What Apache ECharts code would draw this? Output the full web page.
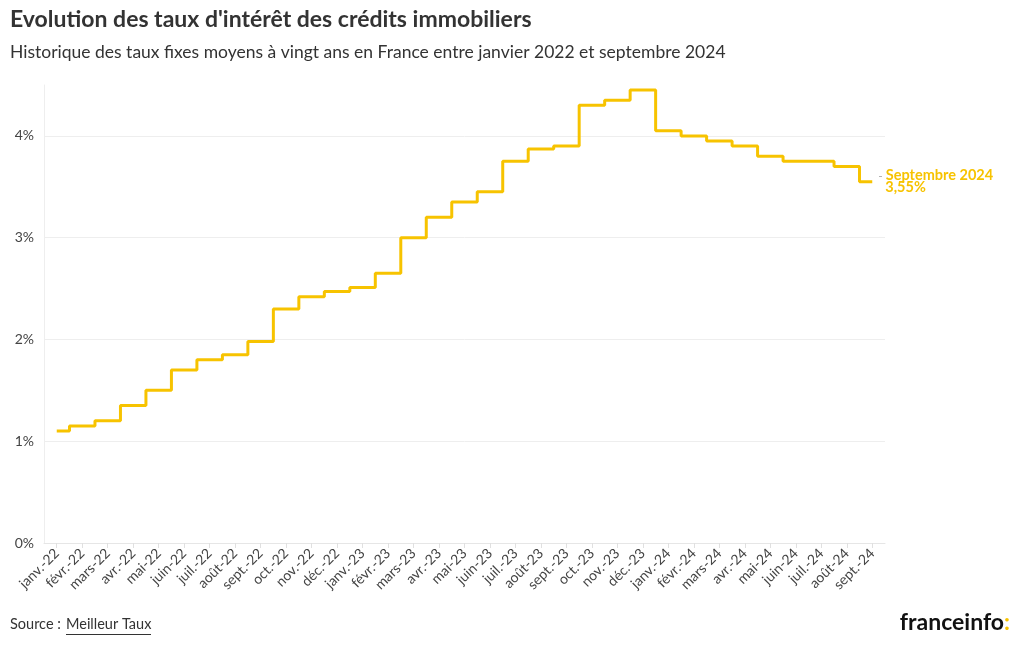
<!DOCTYPE html>
<html>
<head>
<meta charset="utf-8">
<script src="https://cdn.jsdelivr.net/npm/echarts@6/dist/echarts.min.js"></script>
<style>
html,body{margin:0;padding:0;background:#fff;}
#chart{width:1020px;height:650px;}
</style>
</head>
<body>
<div id="chart"></div>
<script>
const categories = ["janv.-22","févr.-22","mars-22","avr.-22","mai-22","juin-22","juil.-22","août-22","sept.-22","oct.-22","nov.-22","déc.-22",
  "janv.-23","févr.-23","mars-23","avr.-23","mai-23","juin-23","juil.-23","août-23","sept.-23","oct.-23","nov.-23","déc.-23",
  "janv.-24","févr.-24","mars-24","avr.-24","mai-24","juin-24","juil.-24","août-24","sept.-24"];
const rates = [1.10,1.15,1.20,1.35,1.50,1.70,1.80,1.85,1.98,2.30,2.42,2.47,
  2.51,2.65,3.00,3.20,3.35,3.45,3.75,3.87,3.90,4.30,4.35,4.45,
  4.05,4.00,3.95,3.90,3.80,3.75,3.75,3.70,3.55];
const yTicks = [0,1,2,3,4];
const title = "Evolution des taux d'intérêt des crédits immobiliers";
const subtitle = "Historique des taux fixes moyens à vingt ans en France entre janvier 2022 et septembre 2024";
const endName = "Septembre 2024";

const FONT = "Lato, 'Noto Sans', sans-serif";
const YELLOW = "#F7C300";
const chart = echarts.init(document.getElementById('chart'));
chart.setOption({
  backgroundColor: '#fff',
  animation: false,
  textStyle: {fontFamily: FONT},
  title: [
    {text: title, left: 5, top: 3, textStyle: {fontFamily: FONT, fontSize: 23, fontWeight: 'bold', color: '#333'}},
    {text: subtitle, left: 5, top: 38, textStyle: {fontFamily: FONT, fontSize: 17.5, fontWeight: 'normal', color: '#333'}}
  ],
  graphic: [
    {type: 'text', left: 10, top: 617, style: {text: 'Source :', font: '14.5px ' + FONT, fill: '#333'}},
    {type: 'text', left: 66, top: 617, style: {text: 'Meilleur Taux', font: '14.5px ' + FONT, fill: '#333'}},
    {type: 'rect', left: 66, top: 634, shape: {width: 85, height: 1}, style: {fill: '#333'}},
    {type: 'text', right: 10, top: 611, style: {
      text: '{a|franceinfo}{b|:}',
      rich: {
        a: {font: 'bold 23px ' + FONT, fill: '#111', color: '#111'},
        b: {font: 'bold 23px ' + FONT, fill: YELLOW, color: YELLOW}
      }
    }}
  ],
  grid: {left: 44, right: 135, top: 85, bottom: 107, containLabel: false},
  xAxis: {
    type: 'category',
    data: categories,
    boundaryGap: true,
    axisLine: {show: true, lineStyle: {color: '#e6e6e6'}},
    axisTick: {show: true, alignWithLabel: true, length: 5, lineStyle: {color: '#e0e0e0'}},
    axisLabel: {rotate: 45, interval: 0, fontSize: 14, color: '#444', fontFamily: FONT, margin: 8}
  },
  yAxis: {
    type: 'value',
    min: 0, max: 4.5, interval: 1,
    axisLine: {show: true, lineStyle: {color: '#eeeeee'}},
    axisTick: {show: false},
    splitLine: {show: true, showMaxLine: false, lineStyle: {color: '#eeeeee'}},
    axisLabel: {
      fontSize: 14, color: '#444', fontFamily: FONT, margin: 10, showMaxLabel: false,
      formatter: v => yTicks.includes(v) ? v + '%' : ''
    }
  },
  series: [{
    type: 'line',
    step: 'middle',
    data: rates,
    symbol: 'none',
    lineStyle: {color: YELLOW, width: 3},
    endLabel: {
      show: true,
      distance: 6,
      formatter: p => '{d|-} {n|' + endName + '}\n{v|  ' + String(p.value).replace('.', ',') + '%}',
      rich: {
        d: {color: '#aaa', fontSize: 12, fontFamily: FONT},
        n: {color: YELLOW, fontSize: 14.5, fontWeight: 'bold', fontFamily: FONT, lineHeight: 12},
        v: {color: YELLOW, fontSize: 14.5, fontWeight: 'bold', fontFamily: FONT, lineHeight: 12}
      }
    }
  }]
});
</script>
</body>
</html>
